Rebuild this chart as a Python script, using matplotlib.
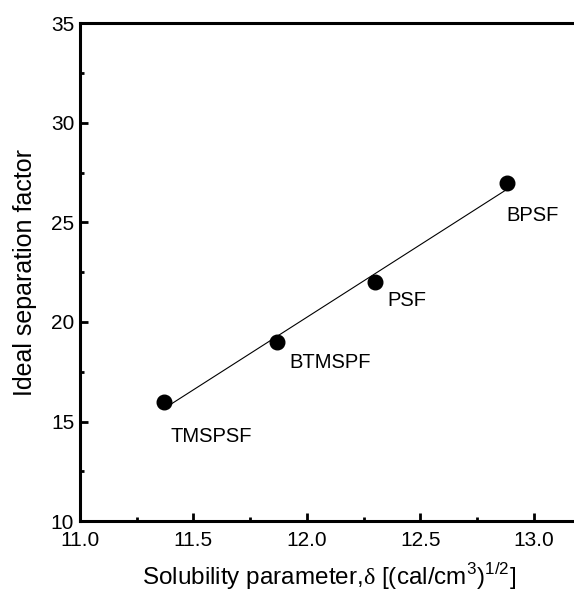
import numpy as np
import matplotlib
matplotlib.use("Agg")
import matplotlib.pyplot as plt
from matplotlib.ticker import MultipleLocator, FormatStrFormatter

plt.rcParams["font.family"] = ["Liberation Sans", "DejaVu Sans"]
plt.rcParams["mathtext.fontset"] = "custom"
plt.rcParams["mathtext.rm"] = "Liberation Sans"
plt.rcParams["mathtext.sf"] = "Liberation Serif"

# -------------------------------------
# Data
# -------------------------------------

polymers = ["TMSPSF", "BTMSPF", "PSF", "BPSF"]
solubility = [11.37, 11.87, 12.30, 12.88]
separation = [16.0, 19.0, 22.0, 27.0]
label_offsets = [(34, -25), (38, -15), (23, -13), (19, -24)]

# -------------------------------------
# Figure
# -------------------------------------

fig = plt.figure(figsize=(5.74, 5.93), dpi=100)
ax = fig.add_axes([0.139, 0.121, 0.87, 0.840])

ax.plot(solubility, separation, "o", color="black", markersize=10.5, zorder=3)

# linear fit through the points
slope, intercept = np.polyfit(solubility, separation, 1)
xfit = np.array([min(solubility), max(solubility)])
ax.plot(xfit, slope * xfit + intercept, color="black", linewidth=0.8)

for name, x, y, off in zip(polymers, solubility, separation, label_offsets):
    ax.annotate(
        name,
        (x, y),
        xytext=off,
        textcoords="offset points",
        ha="center",
        va="center",
        fontsize=14.5
    )

ax.set_xlim(11.0, 13.2)
ax.set_ylim(10, 35)
ax.xaxis.set_major_locator(MultipleLocator(0.5))
ax.xaxis.set_minor_locator(MultipleLocator(0.25))
ax.yaxis.set_major_locator(MultipleLocator(5))
ax.yaxis.set_minor_locator(MultipleLocator(2.5))
ax.xaxis.set_major_formatter(FormatStrFormatter("%.1f"))

ax.tick_params(which="both", direction="in", top=False, right=False,
               labelsize=15, width=2)
ax.tick_params(which="major", length=6)
ax.tick_params(which="minor", length=3)
ax.tick_params(axis="x", which="major", pad=7)
ax.tick_params(axis="y", which="major", pad=4)

for side in ["left", "bottom", "top"]:
    ax.spines[side].set_linewidth(2.2)
ax.spines["right"].set_visible(False)

ax.set_xlabel(r"Solubility parameter,$\mathsf{\delta}$ [(cal/cm$^3$)$^{1/2}$]",
              fontsize=17.5, labelpad=8)
ax.set_ylabel("Ideal separation factor", fontsize=18, labelpad=10)

plt.savefig("out.png", dpi=100)
